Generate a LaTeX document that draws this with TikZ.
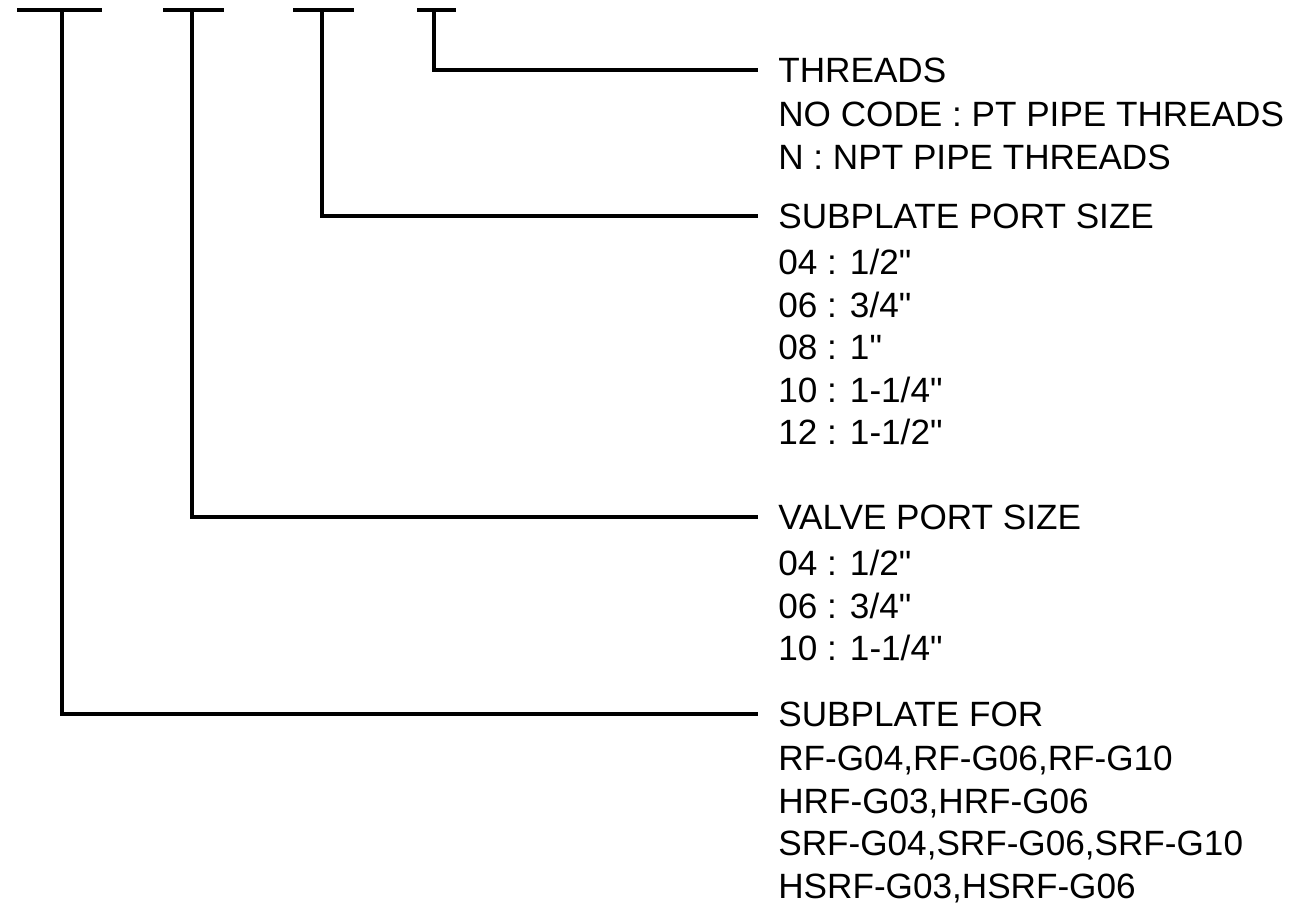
\documentclass[tikz,border=0pt]{standalone}
\usepackage{fontspec}
\setmainfont{Liberation Sans}
\usetikzlibrary{positioning}

\begin{document}
\begin{tikzpicture}[
    x=0.02cm, y=-0.02cm,
    every node/.style={font=\fontsize{20}{24.2}\selectfont},
    codebar/.style={line width=2pt},
    leader/.style={line width=1.8pt},
    headtext/.style={
        anchor=west,
        inner xsep=0.4cm,
        inner ysep=0pt
    },
    bodytext/.style={
        anchor=north west,
        align=left,
        inner xsep=0.4cm,
        inner ysep=0pt
    }
]
    \useasboundingbox (0,0) rectangle (1291,915);

    % Code position bars
    \coordinate (t1) at (62,10);
    \coordinate (t2) at (192,10);
    \coordinate (t3) at (322,10);
    \coordinate (t4) at (434,10);
    \draw[codebar] (17,10) -- (102,10);
    \draw[codebar] (163,10) -- (224,10);
    \draw[codebar] (293,10) -- (354,10);
    \draw[codebar] (417,10) -- (456,10);

    % Headings
    \node[headtext] (thrhd) at (758,70) {THREADS};
    \node[headtext] (sphd) at (758,216) {SUBPLATE PORT SIZE};
    \node[headtext] (vphd) at (758,517) {VALVE PORT SIZE};
    \node[headtext] (sfhd) at (758,714) {SUBPLATE FOR};

    % Option lists
    \node[bodytext] (thrbd) at ([yshift=-0.38cm]thrhd.south west)
        {NO CODE : PT PIPE THREADS\\N : NPT PIPE THREADS};
    \node[bodytext] (spbd) at ([yshift=-0.4cm]sphd.south west)
        {04 : 1/2\textquotedbl\\06 : 3/4\textquotedbl\\08 : 1\textquotedbl\\10 : 1-1/4\textquotedbl\\12 : 1-1/2\textquotedbl};
    \node[bodytext] (vpbd) at ([yshift=-0.4cm]vphd.south west)
        {04 : 1/2\textquotedbl\\06 : 3/4\textquotedbl\\10 : 1-1/4\textquotedbl};
    \node[bodytext] (sfbd) at ([yshift=-0.38cm]sfhd.south west)
        {RF-G04,RF-G06,RF-G10\\HRF-G03,HRF-G06\\SRF-G04,SRF-G06,SRF-G10\\HSRF-G03,HSRF-G06};

    % Leaders
    \draw[leader] (t4) |- (thrhd);
    \draw[leader] (t3) |- (sphd);
    \draw[leader] (t2) |- (vphd);
    \draw[leader] (t1) |- (sfhd);

\end{tikzpicture}
\end{document}
